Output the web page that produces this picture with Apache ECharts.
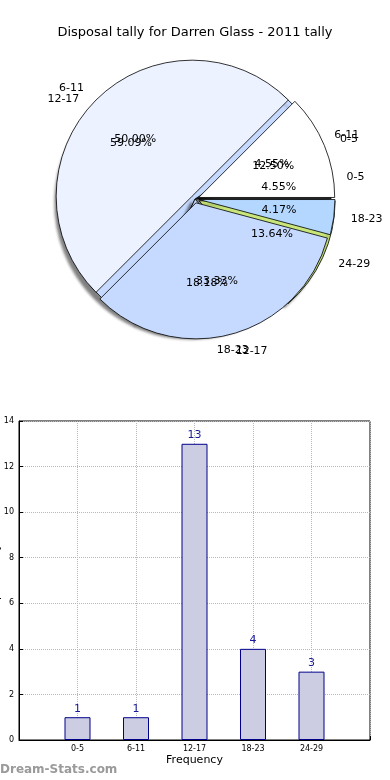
<!DOCTYPE html>
<html><head><meta charset="utf-8">
<script src="https://cdn.jsdelivr.net/npm/echarts@6/dist/echarts.min.js"></script>
<style>html,body{margin:0;padding:0;background:#fff}#c{width:390px;height:780px}</style>
</head><body><div id="c"></div>
<script>
// Data
var titleText = 'Disposal tally for Darren Glass - 2011 tally';
var categories = ['0-5', '6-11', '12-17', '18-23', '24-29'];
var tally = [1, 1, 13, 4, 3];
// second (overlaid) pie, as drawn in the reference (starts just below 3 o'clock)
var pie2Names = ['18-23', '0-5', '6-11', '12-17'];
var pie2Values = [1, 3, 12, 8];
var yTicks = [0, 2, 4, 6, 8, 10, 12, 14];

var FONT = 'DejaVu Sans';
var R = 136, CX = 195, CY = 199;
var pieAColors = ['#3c3c3c', '#c6d9fe', '#c6d9fe', '#c6d9fe', '#c8e67a'];
var pieASelected = [false, false, false, false, true];
var pieBColors = ['#b4d7ff', '#ffffff', '#ecf2ff', '#c6d9fe'];
var pieBSelected = [true, true, true, true];

function sum(a) { return a.reduce(function (s, v) { return s + v; }, 0); }
function pctFmtFor(values) {
  var t = sum(values);
  return function (p) { return (p.value / t * 100).toFixed(2) + '%'; };
}

var pieA = categories.map(function (c, i) {
  return { name: c, value: tally[i], selected: pieASelected[i], itemStyle: { color: pieAColors[i] } };
});
var pieB = pie2Names.map(function (c, i) {
  return { name: c, value: pie2Values[i], selected: pieBSelected[i], itemStyle: { color: pieBColors[i] } };
});
// startAngle of pie B: its first slice ends at 3 o'clock
var pieBStart = -360 * pie2Values[0] / sum(pie2Values);

var outsideLabel = { show: true, position: 'outside', fontFamily: FONT, fontSize: 11, color: '#000', distanceToLabelLine: 0 };
var noLine = { show: false, length: 17, length2: 0 };
var noHide = { hideOverlap: false };

var chart = echarts.init(document.getElementById('c'), null, { renderer: 'canvas' });
chart.setOption({
  animation: false,
  title: { text: titleText, left: 'center', top: 21, textStyle: { fontFamily: FONT, fontSize: 13, fontWeight: 'normal', color: '#000' } },
  grid: { left: 19, right: 20, top: 421, bottom: 40, show: true, borderColor: '#000', borderWidth: 1, outerBoundsMode: 'none', containLabel: false },
  xAxis: {
    type: 'category', boundaryGap: false,
    data: [''].concat(categories, ['']),
    name: 'Frequency', nameLocation: 'middle', nameGap: 15,
    nameTextStyle: { fontFamily: FONT, fontSize: 11, color: '#000' },
    axisLine: { lineStyle: { color: '#000' } },
    axisTick: { inside: true, length: 4, lineStyle: { color: '#000' } },
    axisLabel: { fontFamily: FONT, fontSize: 8, color: '#000', margin: 5 },
    splitLine: { show: true, lineStyle: { color: '#b8b8b8', type: 'dotted', width: 1 } }
  },
  yAxis: {
    type: 'value', min: yTicks[0], max: yTicks[yTicks.length - 1], interval: 2,
    name: 'Disposal tally', nameLocation: 'middle', nameGap: 17, nameRotate: 90, nameMoveOverlap: false,
    nameTextStyle: { fontFamily: FONT, fontSize: 11, color: '#000' },
    axisLine: { show: true, lineStyle: { color: '#000' } },
    axisTick: { show: true, inside: true, length: 4, lineStyle: { color: '#000' } },
    axisLabel: { fontFamily: FONT, fontSize: 8, color: '#000', margin: 5 },
    splitLine: { show: true, lineStyle: { color: '#b8b8b8', type: 'dotted', width: 1 } }
  },
  graphic: [{
    type: 'text', left: 0, top: 764,
    style: { text: 'Dream-Stats.com', fill: '#9a9a9a', font: 'bold 12px "DejaVu Sans"' }
  }],
  series: [
    {
      type: 'bar', data: [null].concat(tally, [null]), barWidth: 26,
      itemStyle: { color: '#ccccE3', borderColor: '#00008b', borderWidth: 1 },
      label: { show: true, position: 'top', distance: 3, fontFamily: FONT, fontSize: 11, color: '#1a1a99' },
      z: 1
    },
    {
      type: 'pie', name: 'A', center: [CX, CY], radius: R, startAngle: 0, clockwise: false,
      selectedMode: 'multiple', selectedOffset: 4.5,
      avoidLabelOverlap: false, silent: true, data: pieA, labelLayout: noHide,
      itemStyle: { borderColor: '#000', borderWidth: 0.8, shadowColor: 'rgba(0,0,0,0.5)', shadowBlur: 3, shadowOffsetX: -4, shadowOffsetY: 4 },
      label: outsideLabel, labelLine: noLine, z: 2
    },
    {
      type: 'pie', name: 'B', center: [CX, CY], radius: R, startAngle: pieBStart, clockwise: false,
      selectedMode: 'multiple', selectedOffset: 4,
      avoidLabelOverlap: false, silent: true, data: pieB, labelLayout: noHide,
      itemStyle: { borderColor: '#000', borderWidth: 0.8 },
      label: outsideLabel, labelLine: noLine, z: 3
    },
    {
      type: 'pie', name: 'Apct', center: [CX, CY], radius: R * 1.2, startAngle: 0, clockwise: false,
      avoidLabelOverlap: false, silent: true, labelLayout: noHide,
      data: pieA.map(function (d) { return { name: d.name, value: d.value }; }),
      itemStyle: { color: 'rgba(0,0,0,0)', borderWidth: 0 },
      label: { show: true, position: 'inside', formatter: pctFmtFor(tally), fontFamily: FONT, fontSize: 11, color: '#000' },
      labelLine: { show: false }, emphasis: { disabled: true }, z: 4
    },
    {
      type: 'pie', name: 'Bpct', center: [CX, CY], radius: R * 1.2, startAngle: pieBStart, clockwise: false,
      avoidLabelOverlap: false, silent: true, labelLayout: noHide,
      data: pieB.map(function (d) { return { name: d.name, value: d.value }; }),
      itemStyle: { color: 'rgba(0,0,0,0)', borderWidth: 0 },
      label: { show: true, position: 'inside', formatter: pctFmtFor(pie2Values), fontFamily: FONT, fontSize: 11, color: '#000' },
      labelLine: { show: false }, emphasis: { disabled: true }, z: 4
    }
  ]
});
</script></body></html>
